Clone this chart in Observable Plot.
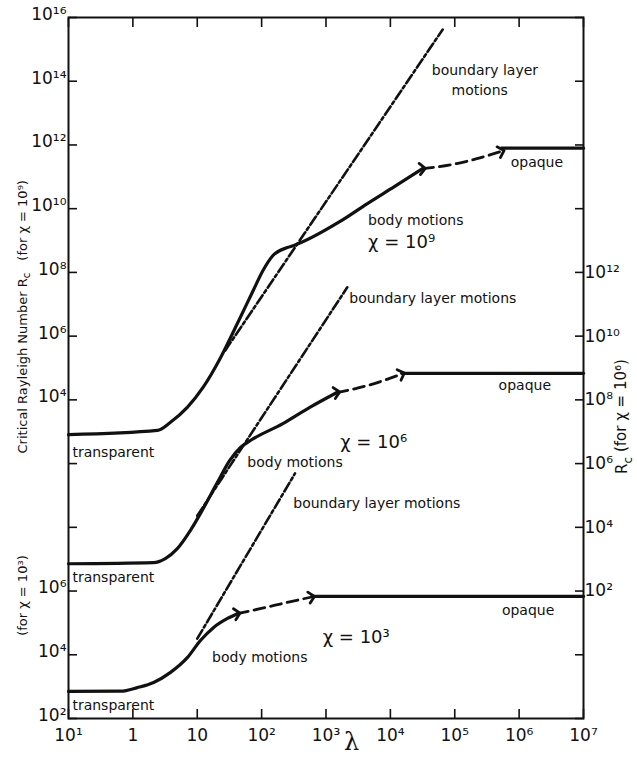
<!DOCTYPE html>
<html>
<head>
<meta charset="utf-8">
<script src="https://cdn.jsdelivr.net/npm/d3@7"></script>
<script src="https://cdn.jsdelivr.net/npm/@observablehq/plot@0.6"></script>
<style>
  html, body { margin: 0; padding: 0; background: #fff; }
  #chart svg { display: block; }
</style>
</head>
<body>
<div id="chart"></div>
<script>
// ---------------- axes ----------------
const lambdaTicks = [1e-1, 1, 1e1, 1e2, 1e3, 1e4, 1e5, 1e6, 1e7];
const lambdaTickLabels = ["10¹", "1", "10", "10²", "10³", "10⁴", "10⁵", "10⁶", "10⁷"];
// y ticks in chart units (= Rc for χ = 10⁹)
const rcTicks = [1e16, 1e14, 1e12, 1e10, 1e8, 1e6, 1e4, 1e2, 1, 1e-2, 1e-4, 1e-6];
const leftTickLabels = ["10¹⁶", "10¹⁴", "10¹²", "10¹⁰", "10⁸", "10⁶", "10⁴", "", "", "10⁶", "10⁴", "10²"];
const rightTickLabels = ["", "", "", "", "10¹²", "10¹⁰", "10⁸", "10⁶", "10⁴", "10²", "", ""];
// each curve is read on its own Rc axis; dividing by this gives chart units
const chi9Scale = 1, chi6Scale = 1e4, chi3Scale = 1e8;

// ---------------- χ = 10⁹ (left upper axis) ----------------
const chi9BodyLambda = [0.1, 2.4, 3.8, 7, 12.3, 23, 42, 74, 105, 150, 250, 310, 1660, 4400, 11700, 31600];
const chi9BodyRc = [8.1e2, 1.1e3, 1.95e3, 5.8e3, 2.45e4, 2.1e5, 2.5e6, 2.7e7, 1.15e8, 3.4e8, 6.0e8, 6.9e8, 4.0e9, 1.45e10, 5.0e10, 1.8e11];
const chi9DashLambda = [31600, 1.07e5, 2.2e5, 5.3e5];
const chi9DashRc = [1.8e11, 2.6e11, 3.7e11, 6.3e11];
const chi9OpaqueLambda = [5.3e5, 1e7];
const chi9OpaqueRc = [7.9e11, 7.9e11];
const chi9BoundaryLambda = [27, 6.5e4];
const chi9BoundaryRc = [3.5e5, 4.2e15];

// ---------------- χ = 10⁶ (right axis) ----------------
const chi6BodyLambda = [0.1, 2.08, 3.19, 4.9, 7.8, 12.4, 20.4, 32, 47, 66, 214, 560, 1480];
const chi6BodyRc = [7.2e2, 7.8e2, 1.05e3, 2.15e3, 7.9e3, 3.9e4, 2.5e5, 1.26e6, 3.2e6, 5.2e6, 1.8e7, 5.8e7, 1.7e8];
const chi6DashLambda = [1480, 4400, 1.5e4];
const chi6DashRc = [1.7e8, 2.8e8, 6.5e8];
const chi6OpaqueLambda = [1.5e4, 1e7];
const chi6OpaqueRc = [6.8e8, 6.8e8];
const chi6BoundaryLambda = [10, 2140];
const chi6BoundaryRc = [2.3e4, 3.4e11];

// ---------------- χ = 10³ (left lower axis) ----------------
const chi3BodyLambda = [0.1, 0.65, 1.17, 2.1, 3.8, 7.0, 11.2, 17.8, 29.5, 42];
const chi3BodyRc = [7.1e2, 7.2e2, 9.3e2, 1.35e3, 2.75e3, 8.1e3, 2.8e4, 7.1e4, 1.38e5, 1.95e5];
const chi3DashLambda = [42, 95, 250, 600];
const chi3DashRc = [1.95e5, 2.8e5, 4.4e5, 6.5e5];
const chi3OpaqueLambda = [600, 1e7];
const chi3OpaqueRc = [6.8e5, 6.8e5];
const chi3BoundaryLambda = [10, 330];
const chi3BoundaryRc = [3.2e4, 4.9e9];

// ---------------- annotations (chart units) ----------------
const annoText = ["boundary layer", "motions", "opaque", "body motions", "transparent",
  "body motions", "boundary layer motions", "opaque", "boundary layer motions",
  "transparent", "body motions", "opaque", "transparent"];
const annoLambda = [4.4e4, 8.9e4, 7.4e5, 4.5e3, 0.115, 60, 2.3e3, 4.8e5, 310, 0.115, 17, 5.4e5, 0.115];
const annoRc = [2.2e14, 5.1e13, 2.8e11, 4.3e9, 2.2e2, 1.07e2, 1.5e7, 2.8e4, 5.6, 2.6e-2, 8.1e-5, 2.5e-3, 2.6e-6];
const chiText = ["χ = 10⁹", "χ = 10⁶", "χ = 10³"];
const chiLambda = [4.5e3, 1.66e3, 890];
const chiRc = [8.7e8, 4.6e2, 3.5e-4];
const leftTitleText = ["(for χ = 10⁹)", "(for χ = 10³)"];
const leftTitleRc = [4.3e9, 7.2e-3];
const rightTitleText = ["R_c (for χ = 10⁶)"];
const rightTitleRc = [3.0e3];
const lambdaLabelAt = [2500];

// ---------------- build rows ----------------
function rows(lams, rcs, scale, key) {
  return lams.map((l, i) => ({lambda: l, rc: rcs[i] / scale, key}));
}
const body = [
  ...rows(chi9BodyLambda, chi9BodyRc, chi9Scale, "9"),
  ...rows(chi6BodyLambda, chi6BodyRc, chi6Scale, "6"),
  ...rows(chi3BodyLambda, chi3BodyRc, chi3Scale, "3")
];
const dashed = [
  ...rows(chi9DashLambda, chi9DashRc, chi9Scale, "9"),
  ...rows(chi6DashLambda, chi6DashRc, chi6Scale, "6"),
  ...rows(chi3DashLambda, chi3DashRc, chi3Scale, "3")
];
const opaque = [
  ...rows(chi9OpaqueLambda, chi9OpaqueRc, chi9Scale, "9"),
  ...rows(chi6OpaqueLambda, chi6OpaqueRc, chi6Scale, "6"),
  ...rows(chi3OpaqueLambda, chi3OpaqueRc, chi3Scale, "3")
];
const boundary = [
  ...rows(chi9BoundaryLambda, chi9BoundaryRc, chi9Scale, "9"),
  ...rows(chi6BoundaryLambda, chi6BoundaryRc, chi6Scale, "6"),
  ...rows(chi3BoundaryLambda, chi3BoundaryRc, chi3Scale, "3")
];
const annos = annoText.map((t, i) => ({text: t, lambda: annoLambda[i], rc: annoRc[i]}));
const chis = chiText.map((t, i) => ({text: t, lambda: chiLambda[i], rc: chiRc[i]}));
const leftTitles = leftTitleText.map((t, i) => ({text: t, rc: leftTitleRc[i]}));
const rightTitles = rightTitleText.map((t, i) => ({text: t, rc: rightTitleRc[i]}));

const tickFont = 17;
const chart = Plot.plot({
  width: 637,
  height: 765,
  marginLeft: 68,
  marginRight: 54,
  marginTop: 17,
  marginBottom: 47,
  style: {fontFamily: "'DejaVu Sans', sans-serif", fontSize: "14px", color: "#111", background: "#fff"},
  x: {type: "log", domain: [1e-1, 1e7]},
  y: {type: "log", domain: [1e-6, 1e16]},
  marks: [
    Plot.frame({strokeWidth: 2}),
    // inward ticks
    Plot.axisX(lambdaTicks, {anchor: "bottom", tickSize: -9, strokeWidth: 1.6, fill: "none", label: null}),
    Plot.axisX(lambdaTicks, {anchor: "top", tickSize: -9, strokeWidth: 1.6, fill: "none", label: null}),
    Plot.axisY(rcTicks, {anchor: "left", tickSize: -9, strokeWidth: 1.6, fill: "none", label: null}),
    Plot.axisY(rcTicks, {anchor: "right", tickSize: -9, strokeWidth: 1.6, fill: "none", label: null}),
    // tick labels
    Plot.axisX(lambdaTicks, {anchor: "bottom", tickSize: 0, tickPadding: 10, fontSize: tickFont, label: null,
      tickFormat: d => lambdaTickLabels[lambdaTicks.indexOf(d)]}),
    Plot.axisY(rcTicks, {anchor: "left", tickSize: 0, tickPadding: 2, dy: -3, fontSize: tickFont, label: null,
      tickFormat: d => leftTickLabels[rcTicks.indexOf(d)]}),
    Plot.axisY(rcTicks, {anchor: "right", tickSize: 0, tickPadding: 1, fontSize: tickFont, label: null,
      tickFormat: d => rightTickLabels[rcTicks.indexOf(d)]}),
    // curves
    Plot.line(boundary, {x: "lambda", y: "rc", z: "key", stroke: "#111", strokeWidth: 2.6,
      strokeDasharray: "10,3,3,3"}),
    Plot.line(body, {x: "lambda", y: "rc", z: "key", stroke: "#111", strokeWidth: 3.2, curve: "monotone-x"}),
    Plot.line(dashed, {x: "lambda", y: "rc", z: "key", stroke: "#111", strokeWidth: 2.8,
      strokeDasharray: "11,6", markerStart: "arrow", markerEnd: "arrow", curve: "monotone-x"}),
    Plot.line(opaque, {x: "lambda", y: "rc", z: "key", stroke: "#111", strokeWidth: 3.2}),
    // annotations
    Plot.text(annos, {x: "lambda", y: "rc", text: "text", textAnchor: "start", fontSize: 14, fill: "#111"}),
    Plot.text(chis, {x: "lambda", y: "rc", text: "text", textAnchor: "start", fontSize: 18, fill: "#111"}),
    // axis titles
    Plot.text(["Critical Rayleigh Number R_c"], {frameAnchor: "left", dx: -46, dy: -5, rotate: -90, textAnchor: "middle",
      fontSize: 13, fill: "#111"}),
    Plot.text(leftTitles, {y: "rc", text: "text", frameAnchor: "left", dx: -46, rotate: -90, textAnchor: "middle",
      fontSize: 13, fill: "#111"}),
    Plot.text(rightTitles, {y: "rc", text: "text", frameAnchor: "right", dx: 39, rotate: -90, textAnchor: "middle",
      fontSize: 15, fill: "#111"}),
    Plot.text(lambdaLabelAt, {x: d => d, text: () => "λ", frameAnchor: "bottom", dy: 31, fontSize: 24,
      fontFamily: "'DejaVu Serif', serif", fill: "#111"})
  ]
});

// subscript c in "R_c"
chart.querySelectorAll("text").forEach(t => {
  if (t.children.length === 0 && t.textContent.includes("R_c")) {
    const [before, after] = t.textContent.split("R_c");
    t.textContent = before + "R";
    const ns = "http://www.w3.org/2000/svg";
    const sub = document.createElementNS(ns, "tspan");
    sub.setAttribute("dy", "0.35em");
    sub.setAttribute("font-size", "0.8em");
    sub.textContent = "c";
    t.appendChild(sub);
    const rest = document.createElementNS(ns, "tspan");
    rest.setAttribute("dy", "-0.35em");
    rest.textContent = after;
    t.appendChild(rest);
  }
});

document.getElementById("chart").appendChild(chart);
</script>
</body>
</html>
